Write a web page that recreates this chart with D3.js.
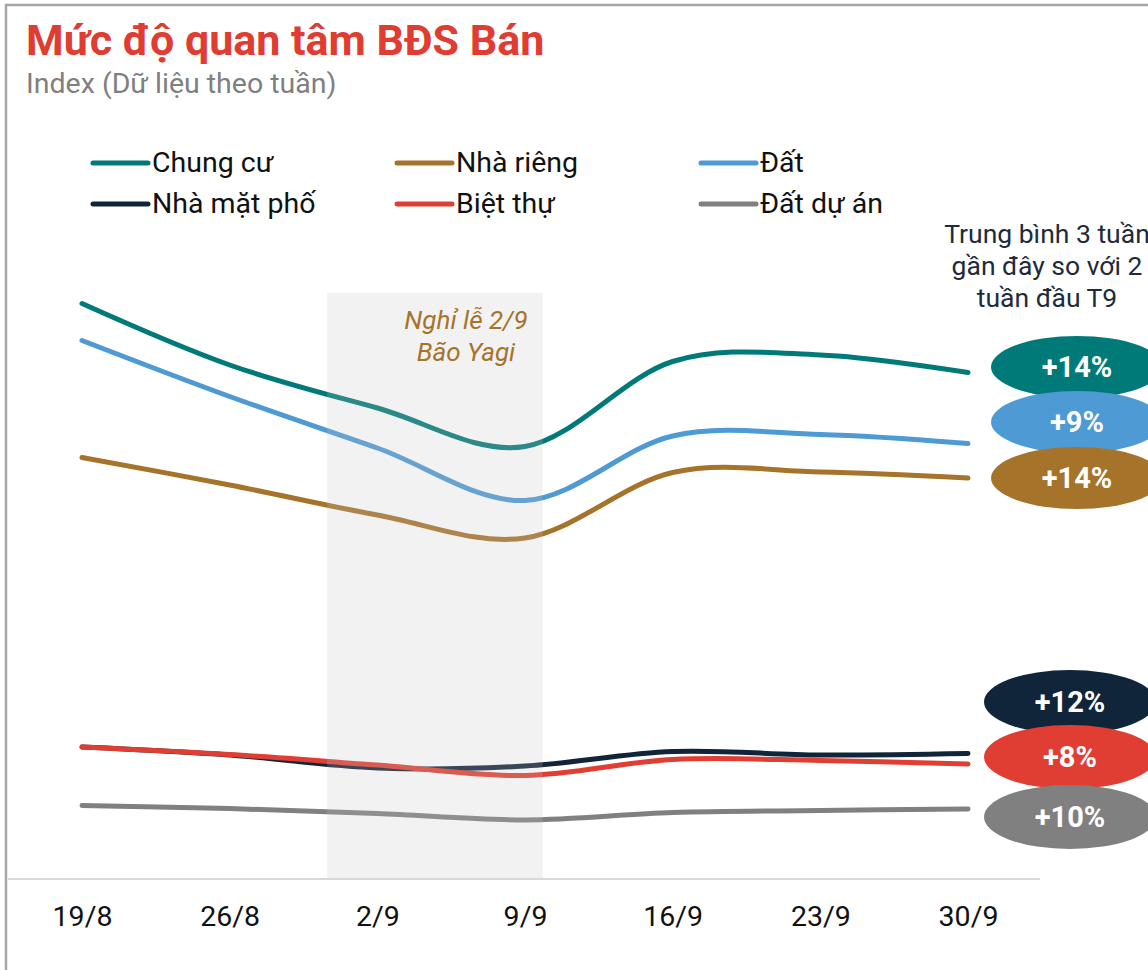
<!DOCTYPE html>
<html>
<head>
<meta charset="utf-8">
<script src="https://cdn.jsdelivr.net/npm/d3@7"></script>
<style>
  body { margin: 0; background: #fff; }
  svg { display: block; font-family: Roboto, "Noto Sans", sans-serif; }
</style>
</head>
<body>
<div id="chart"></div>
<script>
// weekly tick labels
const weeks = ['19/8', '26/8', '2/9', '9/9', '16/9', '23/9', '30/9'];

// index values, one per week
const chungCu   = [114.9, 102.6, 94.0, 86.3, 103.3, 104.6, 101.1];
const nhaRieng  = [84.1, 78.6, 72.6, 68.0, 81.1, 81.2, 80.0];
const dat       = [107.5, 96.3, 86.0, 75.5, 88.4, 88.7, 86.9];
const nhaMatPho = [26.2, 24.6, 22.0, 22.4, 25.3, 24.6, 24.9];
const bietThu   = [26.2, 24.7, 22.6, 20.5, 23.7, 23.5, 22.8];
const datDuAn   = [14.5, 13.9, 12.9, 11.6, 13.1, 13.5, 13.8];

// change of the last 3 weeks vs the first 2 weeks of Sept
const changes = ['+14%', '+14%', '+9%', '+12%', '+8%', '+10%'];

// holiday / typhoon window, in week units
const band = [1.66, 3.12];

const series = [
  { name: 'Chung cư',    values: chungCu,   color: '#007a78', change: changes[0] },
  { name: 'Nhà riêng',   values: nhaRieng,  color: '#a6732b', change: changes[1] },
  { name: 'Đất',         values: dat,       color: '#4e9ad4', change: changes[2] },
  { name: 'Nhà mặt phố', values: nhaMatPho, color: '#10253a', change: changes[3] },
  { name: 'Biệt thự',    values: bietThu,   color: '#e03e33', change: changes[4] },
  { name: 'Đất dự án',   values: datDuAn,   color: '#808080', change: changes[5] }
];

const width = 1148;
const height = 970;

const svg = d3.select('#chart')
  .append('svg')
  .attr('width', width)
  .attr('height', height);

// outer frame (runs off the right and bottom edges)
svg.append('rect')
  .attr('x', 6).attr('y', 5)
  .attr('width', width + 20).attr('height', height + 20)
  .attr('fill', 'none')
  .attr('stroke', '#a6a6a6')
  .attr('stroke-width', 2.5);

// title + subtitle
svg.append('text')
  .attr('x', 26).attr('y', 55)
  .attr('fill', '#e03c31')
  .attr('font-size', 43)
  .attr('font-weight', 700)
  .text('Mức độ quan tâm BĐS Bán');

svg.append('text')
  .attr('x', 26).attr('y', 93)
  .attr('fill', '#7f7f7f')
  .attr('font-size', 28.5)
  .text('Index (Dữ liệu theo tuần)');

// scales
const x = d3.scaleLinear().domain([0, weeks.length - 1]).range([82, 968]);
const y = d3.scaleLinear().domain([0, 120]).range([878, 278]);

// legend, 3 columns x 2 rows
const legendCols = [93, 397, 701];
const legendRows = [163, 204];
const legend = svg.append('g');
series.forEach((s, i) => {
  const lx = legendCols[i % 3];
  const ly = legendRows[Math.floor(i / 3)];
  legend.append('line')
    .attr('x1', lx).attr('x2', lx + 55)
    .attr('y1', ly).attr('y2', ly)
    .attr('stroke', s.color)
    .attr('stroke-width', 5)
    .attr('stroke-linecap', 'round');
  legend.append('text')
    .attr('x', lx + 59).attr('y', ly + 9)
    .attr('font-size', 28.5)
    .attr('fill', '#111')
    .text(s.name);
});

// lines
const line = d3.line()
  .x((d, i) => x(i))
  .y(d => y(d))
  .curve(d3.curveCardinal.tension(0));

svg.append('g')
  .selectAll('path')
  .data(series)
  .enter().append('path')
  .attr('d', d => line(d.values))
  .attr('fill', 'none')
  .attr('stroke', d => d.color)
  .attr('stroke-width', 5)
  .attr('stroke-linecap', 'round');

// shaded window drawn on top, semi transparent
svg.append('rect')
  .attr('x', x(band[0]))
  .attr('y', 293)
  .attr('width', x(band[1]) - x(band[0]))
  .attr('height', 878 - 293)
  .attr('fill', '#c2c2c2')
  .attr('opacity', 0.22);

const bandLabel = svg.append('text')
  .attr('text-anchor', 'middle')
  .attr('font-size', 26)
  .attr('font-style', 'italic')
  .attr('fill', '#a6732b');
bandLabel.append('tspan').attr('x', 466).attr('y', 329).text('Nghỉ lễ 2/9');
bandLabel.append('tspan').attr('x', 466).attr('y', 361).text('Bão Yagi');

// x axis
svg.append('line')
  .attr('x1', 8).attr('x2', 1040)
  .attr('y1', 879).attr('y2', 879)
  .attr('stroke', '#d9d9d9')
  .attr('stroke-width', 2);

const xAxis = svg.append('g')
  .attr('transform', 'translate(0,879)')
  .call(d3.axisBottom(x)
    .tickValues(d3.range(weeks.length))
    .tickFormat(i => weeks[i])
    .tickSize(0)
    .tickPadding(27));
xAxis.select('.domain').remove();
xAxis.selectAll('text')
  .attr('font-size', 28.5)
  .attr('font-family', 'Roboto, sans-serif')
  .attr('fill', '#111');

// right-hand note
const note = svg.append('text')
  .attr('text-anchor', 'middle')
  .attr('font-size', 26.5)
  .attr('fill', '#1d2b3a');
['Trung bình 3 tuần', 'gần đây so với 2', 'tuần đầu T9'].forEach((t, i) => {
  note.append('tspan').attr('x', 1047).attr('y', 243 + i * 32).text(t);
});

// change bubbles
const bubbleY = [367, 478, 422, 702, 757, 817];
const bubbleX = [1077, 1077, 1077, 1070, 1070, 1070];
const drawOrder = [0, 2, 1, 3, 4, 5];
const bubbles = svg.append('g');
drawOrder.forEach(i => {
  const s = series[i];
  bubbles.append('ellipse')
    .attr('cx', bubbleX[i]).attr('cy', bubbleY[i])
    .attr('rx', 86).attr('ry', i < 3 ? 31 : 32)
    .attr('fill', s.color);
  bubbles.append('text')
    .attr('x', bubbleX[i]).attr('y', bubbleY[i] + 10)
    .attr('text-anchor', 'middle')
    .attr('font-size', 29)
    .attr('font-weight', 700)
    .attr('fill', '#fff')
    .text(s.change);
});
</script>
</body>
</html>
